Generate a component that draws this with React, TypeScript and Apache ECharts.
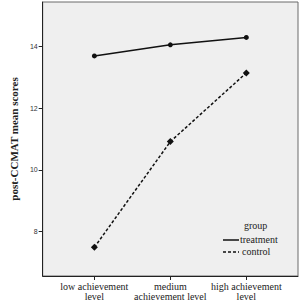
import React, { useEffect, useRef } from "react";
import * as echarts from "echarts";

const categories = ["low achievement\nlevel", "medium\nachievement level", "high achievement\nlevel"];
const treatment = [13.7, 14.06, 14.3];
const control = [7.49, 10.92, 13.15];
const yTicks = [8, 10, 12, 14];
const groupTitle = "group";
const seriesNames = ["treatment", "control"];

export default function App() {
  const ref = useRef<HTMLDivElement>(null);
  useEffect(() => {
    document.body.style.margin = "0";
    const chart = echarts.init(ref.current!, null, { renderer: "svg" });
    const serif = "Liberation Serif";
    chart.setOption({
      animation: false,
      backgroundColor: "#ffffff",
      grid: {
        left: 28,
        right: 3,
        top: 2,
        bottom: 28,
        show: true,
        backgroundColor: "#efefef",
        borderColor: "#6b6b6b",
        borderWidth: 1,
      },
      xAxis: {
        type: "value",
        min: -0.68,
        max: 2.68,
        axisLine: { show: true, onZero: false, lineStyle: { color: "#222", width: 1 } },
        axisTick: { show: true, customValues: [0, 1, 2], length: 4, lineStyle: { color: "#222" } },
        splitLine: { show: false },
        axisLabel: {
          customValues: [0, 1, 2],
          formatter: (v: number) => categories[Math.round(v)],
          fontFamily: serif,
          fontSize: 10,
          color: "#222",
          lineHeight: 10.5,
          margin: 5,
        },
      },
      yAxis: {
        type: "value",
        min: 6.56,
        max: 15.45,
        name: "post-CCMAT mean scores",
        nameLocation: "middle",
        nameGap: 16,
        nameTextStyle: { fontFamily: serif, fontSize: 11, fontWeight: "bold", color: "#222" },
        axisLine: { show: true, onZero: false, lineStyle: { color: "#222", width: 1 } },
        axisTick: { show: true, customValues: yTicks, length: 4, lineStyle: { color: "#222" } },
        splitLine: { show: false },
        axisLabel: {
          customValues: yTicks,
          fontFamily: "Liberation Sans",
          fontSize: 7,
          color: "#333",
          margin: 5,
        },
      },
      series: [
        {
          name: seriesNames[0],
          type: "line",
          data: treatment.map((v, i) => [i, v]),
          symbol: "circle",
          symbolSize: 5,
          lineStyle: { color: "#111", width: 1.5, type: "solid" },
          itemStyle: { color: "#111" },
        },
        {
          name: seriesNames[1],
          type: "line",
          data: control.map((v, i) => [i, v]),
          symbol: "diamond",
          symbolSize: 7,
          lineStyle: { color: "#111", width: 1.5, type: [3, 2] },
          itemStyle: { color: "#111" },
        },
      ],
      graphic: [
        {
          type: "text",
          left: 244,
          top: 220,
          style: { text: groupTitle, fontFamily: serif, fontSize: 10, fill: "#222" },
        },
        {
          type: "line",
          shape: { x1: 223, y1: 240, x2: 239, y2: 240 },
          style: { stroke: "#111", lineWidth: 1.5 },
        },
        {
          type: "text",
          left: 240,
          top: 234,
          style: { text: seriesNames[0], fontFamily: serif, fontSize: 10, fill: "#222" },
        },
        {
          type: "line",
          shape: { x1: 223, y1: 252, x2: 239, y2: 252 },
          style: { stroke: "#111", lineWidth: 1.5, lineDash: [3, 2] },
        },
        {
          type: "text",
          left: 242,
          top: 246,
          style: { text: seriesNames[1], fontFamily: serif, fontSize: 10, fill: "#222" },
        },
      ],
    });
    return () => chart.dispose();
  }, []);
  return <div ref={ref} style={{ width: 301, height: 304 }} />;
}
